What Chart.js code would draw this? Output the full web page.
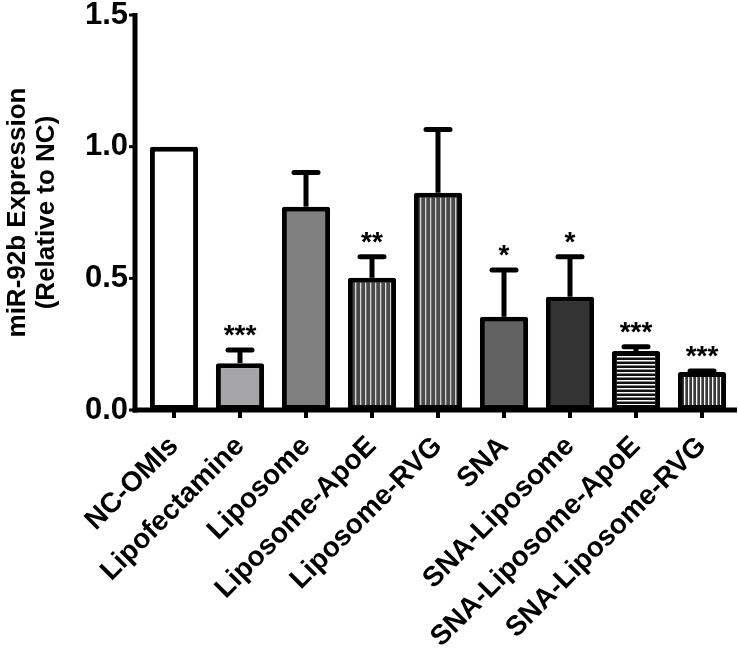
<!DOCTYPE html>
<html>
<head>
<meta charset="utf-8">
<script src="https://cdn.jsdelivr.net/npm/chart.js@4"></script>
<style>
  html, body { margin: 0; padding: 0; background: #fff; }
  #wrap { width: 738px; height: 660px; }
</style>
</head>
<body>
<div id="wrap"><canvas id="myChart" width="738" height="660"></canvas></div>
<script>
var labels = ['NC-OMIs', 'Lipofectamine', 'Liposome', 'Liposome-ApoE', 'Liposome-RVG',
              'SNA', 'SNA-Liposome', 'SNA-Liposome-ApoE', 'SNA-Liposome-RVG'];
var means = [1.0, 0.178, 0.772, 0.502, 0.825, 0.354, 0.43, 0.224, 0.144];
var errors = [0, 0.05, 0.13, 0.08, 0.24, 0.178, 0.152, 0.016, 0.004];
var stars = ['', '***', '', '**', '', '*', '*', '***', '***'];
var yTicks = [0, 0.5, 1.0, 1.5];

// fill patterns
function stripes(bg, fg, size, lw, vertical) {
    var c = document.createElement('canvas');
    c.width = size; c.height = size;
    var g = c.getContext('2d');
    g.fillStyle = bg;
    g.fillRect(0, 0, size, size);
    g.fillStyle = fg;
    if (vertical) g.fillRect(0, 0, lw, size);
    else g.fillRect(0, 0, size, lw);
    return g.createPattern(c, 'repeat');
}

var fills = [
    '#ffffff',
    '#a5a5a9',
    '#808080',
    stripes('#4a4a4a', '#d8d8d8', 5, 1.3, true),
    stripes('#4a4a4a', '#d0d0d0', 5, 1.3, true),
    '#626262',
    '#333333',
    stripes('#111111', '#ffffff', 4, 1.5, false),
    stripes('#3a3a3a', '#ffffff', 4.5, 1.3, true)
];

var FONT = '"Liberation Sans", Arial, sans-serif';

var axesAndBars = {
    id: 'axesAndBars',
    afterDatasetsDraw: function (chart) {
        var c = chart.ctx;
        var xs = chart.scales.x, ys = chart.scales.y;
        var x0 = chart.chartArea.left - 6;
        var yb = ys.getPixelForValue(0);
        var yt = ys.getPixelForValue(1.5);
        c.save();
        c.strokeStyle = '#000';
        c.lineCap = 'butt';

        // error bars
        c.lineWidth = 5;
        for (var i = 0; i < means.length; i++) {
            if (!errors[i]) continue;
            var px = xs.getPixelForValue(i);
            var top = ys.getPixelForValue(means[i] + errors[i]);
            var bt = ys.getPixelForValue(means[i]);
            c.beginPath();
            c.moveTo(px, bt);
            c.lineTo(px, top);
            c.stroke();
            c.lineCap = 'round';
            c.beginPath();
            c.moveTo(px - 12, top);
            c.lineTo(px + 12, top);
            c.stroke();
            c.lineCap = 'butt';
        }

        // stars
        c.fillStyle = '#000';
        c.font = 'bold 28px ' + FONT;
        c.textAlign = 'center';
        c.textBaseline = 'alphabetic';
        for (var j = 0; j < means.length; j++) {
            if (!stars[j]) continue;
            var sx = xs.getPixelForValue(j);
            var sy = ys.getPixelForValue(means[j] + errors[j]) - 22;
            c.fillText(stars[j], sx, sy + 16);
        }

        // axes
        c.lineWidth = 5;
        c.beginPath();
        c.moveTo(x0, yt - 2);
        c.lineTo(x0, yb + 2.5);
        c.stroke();
        c.beginPath();
        c.moveTo(x0 - 2.5, yb);
        c.lineTo(737, yb);
        c.stroke();
        c.lineWidth = 3;
        yTicks.forEach(function (v) {
            var py = ys.getPixelForValue(v);
            c.beginPath();
            c.moveTo(x0 - 6, py);
            c.lineTo(x0, py);
            c.stroke();
        });
        c.lineWidth = 4;
        for (var k = 0; k < labels.length; k++) {
            var tx = xs.getPixelForValue(k);
            c.beginPath();
            c.moveTo(tx, yb);
            c.lineTo(tx, yb + 8);
            c.stroke();
        }
        c.restore();
    }
};

var ctx = document.getElementById('myChart').getContext('2d');
var myChart = new Chart(ctx, {
    type: 'bar',
    data: {
        labels: labels,
        datasets: [{
            data: means,
            backgroundColor: fills,
            borderColor: '#000',
            borderWidth: 5,
            borderSkipped: false,
            borderRadius: 2,
            barPercentage: 0.73,
            categoryPercentage: 1.0
        }]
    },
    options: {
        responsive: false,
        animation: false,
        events: [],
        layout: { padding: { top: 15, right: 3, left: 0, bottom: 0 } },
        plugins: { legend: { display: false }, tooltip: { enabled: false } },
        scales: {
            x: {
                grid: { display: false, drawTicks: false },
                border: { display: false },
                ticks: {
                    minRotation: 45, maxRotation: 45, autoSkip: false,
                    color: '#000', padding: 20,
                    font: { family: FONT, size: 28, weight: 'bold' }
                },
                afterFit: function (s) { s.height = 250; s.paddingLeft = 0; s.paddingRight = 0; }
            },
            y: {
                min: 0, max: 1.5,
                grid: { display: false, drawTicks: false },
                border: { display: false },
                ticks: {
                    stepSize: 0.5, color: '#000', padding: 13,
                    font: { family: FONT, size: 31, weight: 'bold' },
                    callback: function (v) { return v.toFixed(1); }
                },
                title: {
                    display: true,
                    text: ['miR-92b Expression', '(Relative to NC)'],
                    color: '#000',
                    font: { family: FONT, size: 26, weight: 'bold', lineHeight: 1.1 },
                    padding: { top: 4, bottom: 0 }
                },
                afterFit: function (s) { s.width = 141; s.paddingTop = 0; s.paddingBottom = 0; }
            }
        }
    },
    plugins: [axesAndBars]
});
</script>
</body>
</html>
